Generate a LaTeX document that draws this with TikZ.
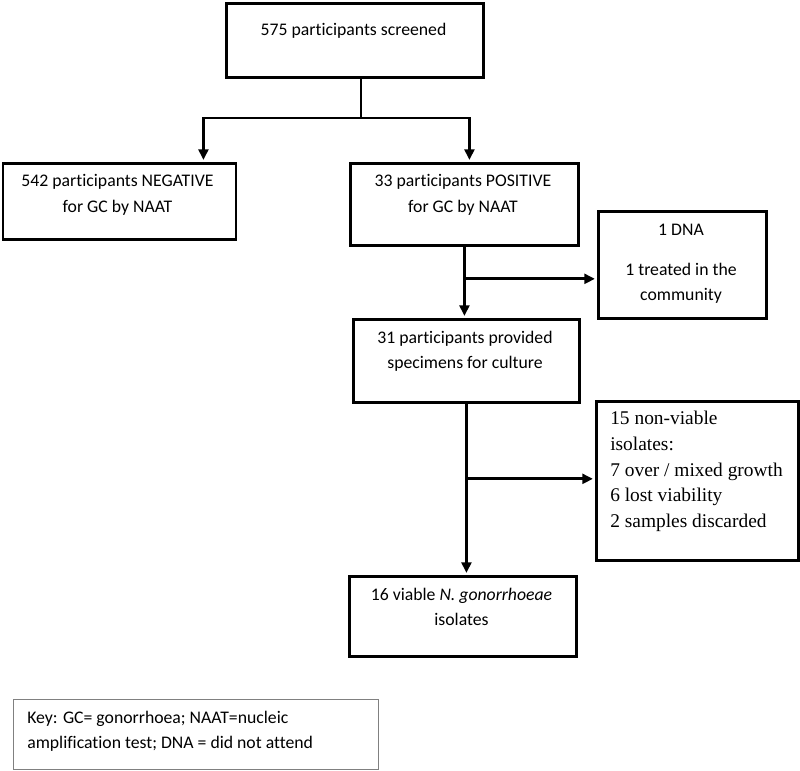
\documentclass[tikz,border=0pt]{standalone}
\usepackage{fontspec}
\setmainfont{Carlito}[Ligatures=NoCommon]
\newfontfamily\timesfont{Liberation Serif}
\usetikzlibrary{arrows.meta,calc}
\newcommand{\flowsize}{\fontsize{12.6}{17.8}\selectfont}
\begin{document}
\begin{tikzpicture}[x=0.025cm, y=-0.025cm,
    box/.style={draw, line width=2pt, inner sep=0pt, anchor=north west},
    txt/.style={inner sep=0pt, anchor=north, align=center, font=\flowsize},
    arr/.style={line width=2pt, -{Triangle[length=7.5pt,width=7pt]}, shorten >=1.5pt}]
    \useasboundingbox (0,0) rectangle (800,770);
    \node[box, minimum width=6.425cm, minimum height=1.85cm] (top) at (225,2) {};
    \node[box, minimum width=5.825cm, minimum height=1.9cm] (neg) at (1.5,162) {};
    \node[box, minimum width=5.7cm, minimum height=2.05cm] (pos) at (349,162) {};
    \node[box, minimum width=4.2cm, minimum height=2.675cm] (dna) at (597,210) {};
    \node[box, minimum width=5.65cm, minimum height=2.075cm] (c31) at (352,318) {};
    \node[box, minimum width=5.05cm, minimum height=3.975cm] (nv15) at (595,400) {};
    \node[box, minimum width=5.675cm, minimum height=2.0cm] (v16) at (348,575) {};
    \node[box, draw=gray, line width=0.6pt, minimum width=9.125cm, minimum height=1.75cm] (key) at (13,699) {};
    \node[txt] (top-t) at (353.5,22.5) {575 participants screened};
    \node[txt] (neg-t) at (117.5,174.5) {542 participants NEGATIVE\\for GC by NAAT};
    \node[txt] (pos-t) at (463,174.5) {33 participants POSITIVE\\for GC by NAAT};
    \node[txt] (dna-t) at (681,223.5) {1 DNA\\[11pt]1 treated in the\\community};
    \node[txt] (c31-t) at (465,330.5) {31 participants provided\\specimens for culture};
    \node[txt, anchor=north west, align=left, font=\timesfont\fontsize{13.8}{18.3}\selectfont] (nv15-t) at (610,411) {15 non-viable\\isolates:\\7 over / mixed growth\\6 lost viability\\2 samples discarded};
    \node[txt] (v16-t) at (461.5,587.5) {16 viable \textit{N. gonorrhoeae}\\isolates};
    \node[txt, anchor=north west, align=left] (key-t) at (27,710.5) {Key: GC= gonorrhoea; NAAT=nucleic\\amplification test; DNA = did not attend};
    \coordinate (fork) at (361,118);
    \draw[line width=2pt] (fork |- top.south) -- (fork);
    \draw[arr] (fork) -| ($(neg.north)+(84,0)$);
    \draw[arr] (fork) -| ($(pos.north)+(5,0)$);
    \draw[arr] (pos.south) -- (pos.south |- c31.north);
    \coordinate (b1) at ($(pos.south)+(0,32)$);
    \draw[arr] (b1) -- (b1 -| dna.west);
    \draw[arr] (c31.south) -- (c31.south |- v16.north);
    \coordinate (b2) at ($(c31.south)+(0,75)$);
    \draw[arr] (b2) -- (b2 -| nv15.west);
\end{tikzpicture}
\end{document}
